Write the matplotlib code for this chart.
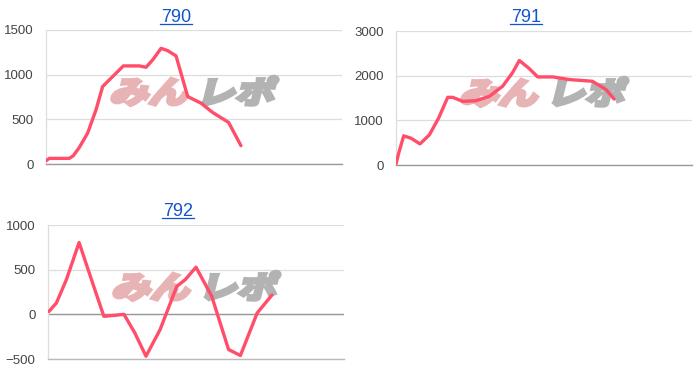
import matplotlib
matplotlib.use('Agg')
import matplotlib.pyplot as plt
from matplotlib.textpath import TextPath
from matplotlib.patches import PathPatch
from matplotlib.font_manager import FontProperties
from matplotlib.transforms import Affine2D, IdentityTransform
from matplotlib.lines import Line2D

plt.rcParams['font.family'] = ['Liberation Sans', 'DejaVu Sans']

# 790
x790 = [0, 0.34, 2.36, 2.77, 3.38, 4.22, 5.07, 5.74, 6.42, 7.84, 9.46, 10.14,
        10.81, 11.66, 12.33, 13.18, 14.36, 15.71, 16.89, 18.51, 19.76]
y790 = [37, 63, 63, 93, 186, 346, 607, 867, 942, 1098, 1098, 1083,
        1165, 1295, 1269, 1210, 755, 681, 577, 465, 205]

# 791
x791 = [0, 0.27, 0.78, 1.52, 2.43, 3.38, 4.32, 5.24, 5.74, 6.76, 8.1, 9.46,
        10.8, 11.8, 12.5, 13.5, 14.36, 15.9, 17.6, 19.9, 21.3, 22.1]
y791 = [22, 262, 652, 600, 472, 675, 1050, 1515, 1515, 1425, 1440, 1537,
        1762, 2062, 2340, 2160, 1972, 1972, 1912, 1875, 1687, 1477]

# 792
x792 = [0.1, 0.85, 1.86, 3.15, 4.41, 5.66, 6.78, 7.7, 8.8, 9.93, 11.36, 13.05,
        13.9, 15.0, 16.6, 18.3, 19.5, 21.2, 22.7]
y792 = [33, 127, 387, 804, 387, -22, -11, 0, -208, -469, -171, 313,
        387, 528, 201, -394, -461, 15, 216]

titles = ['790', '791', '792']
yticks = [[0, 500, 1000, 1500], [0, 1000, 2000, 3000], [-500, 0, 500, 1000]]
series = [(x790, y790), (x791, y791), (x792, y792)]

W, H = 700, 388
fig = plt.figure(figsize=(7, 3.88), dpi=100)

# axes boxes in pixels (left, top, right, bottom)
boxes = [(46, 30, 342, 164), (396, 31, 692, 165), (48, 225, 344, 359)]
title_pos = [(176, 9), (526, 9), (178, 203)]

fp = FontProperties(family='Noto Sans CJK JP', weight='bold')


def watermark(ax, x0, y0):
    # x0, y0 in display pixels (origin bottom-left)
    for txt, col, dx in [('みん', '#e8b3b5', 0), ('レポ', '#b3b3b3', 87)]:
        tp = TextPath((0, 0), txt, size=32, prop=fp)
        tr = Affine2D().scale(1.22, 0.95).skew_deg(14, 0).translate(x0 + dx, y0)
        patch = PathPatch(tr.transform_path(tp), facecolor=col, edgecolor=col,
                          lw=2.8, joinstyle='miter',
                          transform=IdentityTransform(), zorder=2)
        patch.set_clip_on(False)
        ax.add_artist(patch)


for i, ((l, t, r, b), (xs, ys)) in enumerate(zip(boxes, series)):
    ax = fig.add_axes([l / W, 1 - b / H, (r - l) / W, (b - t) / H])
    ax.set_facecolor('none')
    lo, hi = yticks[i][0], yticks[i][-1]
    ax.set_ylim(lo, hi)
    ax.set_xlim(0, 30)
    ax.set_yticks(yticks[i])
    ax.set_xticks([])
    ax.tick_params(axis='y', length=0, pad=9, labelsize=9.5, labelcolor='#444444')
    for yt in yticks[i]:
        ax.axhline(yt, color='#dddddd', lw=0.9, zorder=0)
    if lo < 0:
        ax.axhline(0, color='#999999', lw=1.0, zorder=0)
        ax.spines['bottom'].set_color('#bbbbbb')
    else:
        ax.spines['bottom'].set_color('#999999')
    ax.spines['top'].set_visible(False)
    ax.spines['right'].set_visible(False)
    ax.spines['left'].set_color('#dddddd')
    ax.spines['left'].set_linewidth(0.9)
    ax.spines['bottom'].set_linewidth(1.0)

    watermark(ax, l + 63, H - b + 61)
    ax.plot(xs, ys, color='#ff4d6a', lw=2.4, solid_joinstyle='round',
            solid_capstyle='round', zorder=3)

    tx, ty = title_pos[i]
    fig.text(tx / W, 1 - ty / H, titles[i], ha='center', va='top',
             fontsize=13, color='#1155cc')
    fig.add_artist(Line2D([(tx - 16) / W, (tx + 16) / W],
                          [1 - (ty + 15) / H, 1 - (ty + 15) / H],
                          color='#1155cc', lw=0.9))

fig.savefig('out.png', dpi=100)
